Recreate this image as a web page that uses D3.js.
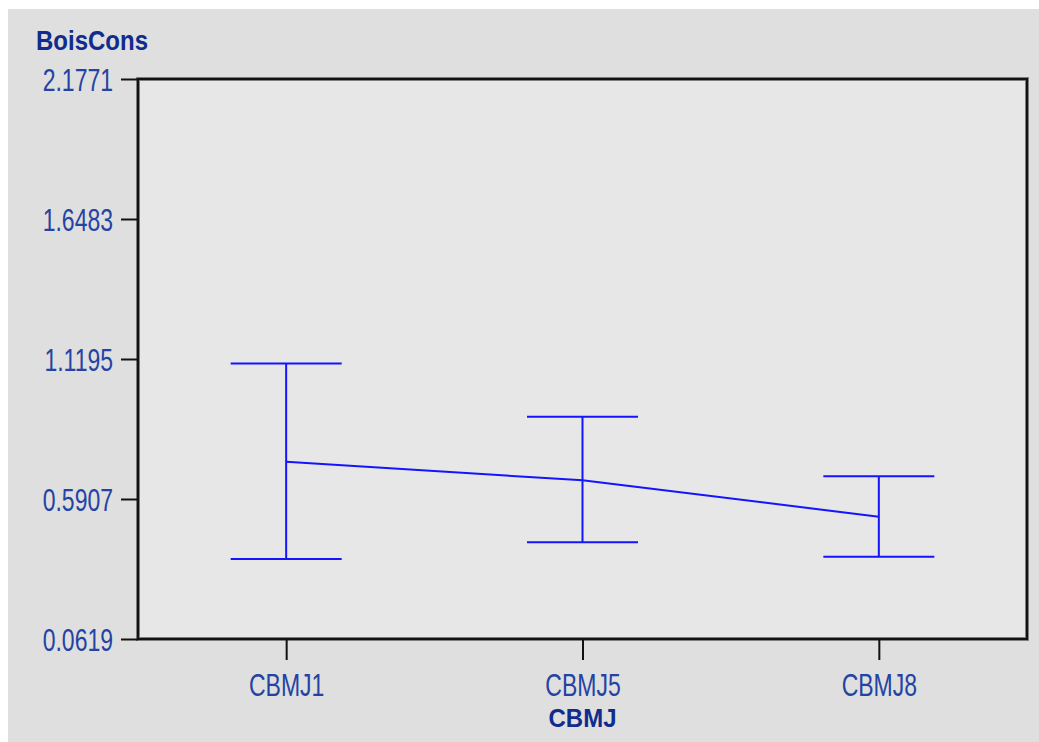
<!DOCTYPE html>
<html>
<head>
<meta charset="utf-8">
<script src="https://cdn.jsdelivr.net/npm/d3@7"></script>
<style>
  html, body { margin: 0; padding: 0; background: #ffffff; }
  svg { display: block; }
</style>
</head>
<body>
<svg id="chart" width="1039" height="742"></svg>
<script>
// Means with interval bounds of BoisCons for each CBMJ group
const categories = ["CBMJ1", "CBMJ5", "CBMJ8"];
const means = [0.7316, 0.6613, 0.5238];
const upper = [1.1025, 0.9015, 0.6764];
const lower = [0.3641, 0.4271, 0.3727];
const yTicks = [0.0619, 0.5907, 1.1195, 1.6483, 2.1771];
const yTitle = "BoisCons";
const xTitle = "CBMJ";

const svg = d3.select("#chart");
const W = 1039, H = 742;
const margin = { left: 138, top: 79, right: 12, bottom: 103 };
const plotW = W - margin.left - margin.right;
const plotH = H - margin.top - margin.bottom;

const textColor = "#2443a3";
const titleColor = "#102c8c";
const markColor = "#1414ff";
const stretch = 1.4;

// backgrounds
svg.append("rect").attr("x", 8).attr("y", 9).attr("width", W - 8).attr("height", H - 9)
  .attr("fill", "#dfdfdf");

const g = svg.append("g").attr("transform", `translate(${margin.left},${margin.top})`);

const x = d3.scalePoint().domain(categories).range([0, plotW]).padding(0.5);
const y = d3.scaleLinear().domain([yTicks[0], yTicks[yTicks.length - 1]]).range([plotH, 0]);

// plot panel with soft shadow on the frame
g.append("rect").attr("width", plotW).attr("height", plotH)
  .attr("fill", "#e7e7e7").attr("stroke", "#8a8a8a").attr("stroke-width", 4);
g.append("rect").attr("width", plotW).attr("height", plotH)
  .attr("fill", "none").attr("stroke", "#121212").attr("stroke-width", 2.2);

// y axis
const yAxis = g.append("g").call(
  d3.axisLeft(y).tickValues(yTicks).tickFormat(d3.format(".4f")).tickSize(17).tickSizeOuter(0)
);
yAxis.select(".domain").remove();
yAxis.selectAll(".tick line").attr("stroke", "#121212").attr("stroke-width", 2);
yAxis.selectAll(".tick text")
  .attr("x", 0).attr("dy", "0.35em")
  .attr("transform", `translate(-25,0) scale(1,${stretch})`)
  .attr("fill", textColor)
  .style("font-family", "'Liberation Sans', Arial, sans-serif")
  .style("font-size", "23px");

// x axis
const xAxis = g.append("g").attr("transform", `translate(0,${plotH})`).call(
  d3.axisBottom(x).tickSize(21).tickSizeOuter(0)
);
xAxis.select(".domain").remove();
xAxis.selectAll(".tick line").attr("stroke", "#121212").attr("stroke-width", 2);
xAxis.selectAll(".tick text")
  .attr("y", 0).attr("dy", "0.35em")
  .attr("transform", `translate(0,45.5) scale(1,${stretch})`)
  .attr("fill", textColor)
  .style("font-family", "'Liberation Sans', Arial, sans-serif")
  .style("font-size", "23px");

// axis titles
svg.append("text")
  .attr("transform", `translate(36,50) scale(1,1.15)`)
  .attr("fill", titleColor)
  .style("font-family", "'Liberation Sans', Arial, sans-serif")
  .style("font-weight", "bold").style("font-size", "24px")
  .text(yTitle);
svg.append("text")
  .attr("transform", `translate(${margin.left + x(categories[1])},727) scale(1,1.05)`)
  .attr("text-anchor", "middle")
  .attr("fill", titleColor)
  .style("font-family", "'Liberation Sans', Arial, sans-serif")
  .style("font-weight", "bold").style("font-size", "24px")
  .text(xTitle);

// connecting line through the means
const rows = categories.map((c, i) => ({ c, m: means[i], hi: upper[i], lo: lower[i] }));
g.append("path").datum(rows)
  .attr("fill", "none").attr("stroke", markColor).attr("stroke-width", 2)
  .attr("d", d3.line().x(d => x(d.c)).y(d => y(d.m)));

// interval bars with caps
const capHalf = 55.5;
const bars = g.selectAll(".bar").data(rows).join("g").attr("class", "bar");
bars.append("line")
  .attr("x1", d => x(d.c)).attr("x2", d => x(d.c))
  .attr("y1", d => y(d.hi)).attr("y2", d => y(d.lo))
  .attr("stroke", markColor).attr("stroke-width", 2);
bars.append("line")
  .attr("x1", d => x(d.c) - capHalf).attr("x2", d => x(d.c) + capHalf)
  .attr("y1", d => y(d.hi)).attr("y2", d => y(d.hi))
  .attr("stroke", markColor).attr("stroke-width", 2);
bars.append("line")
  .attr("x1", d => x(d.c) - capHalf).attr("x2", d => x(d.c) + capHalf)
  .attr("y1", d => y(d.lo)).attr("y2", d => y(d.lo))
  .attr("stroke", markColor).attr("stroke-width", 2);
</script>
</body>
</html>
